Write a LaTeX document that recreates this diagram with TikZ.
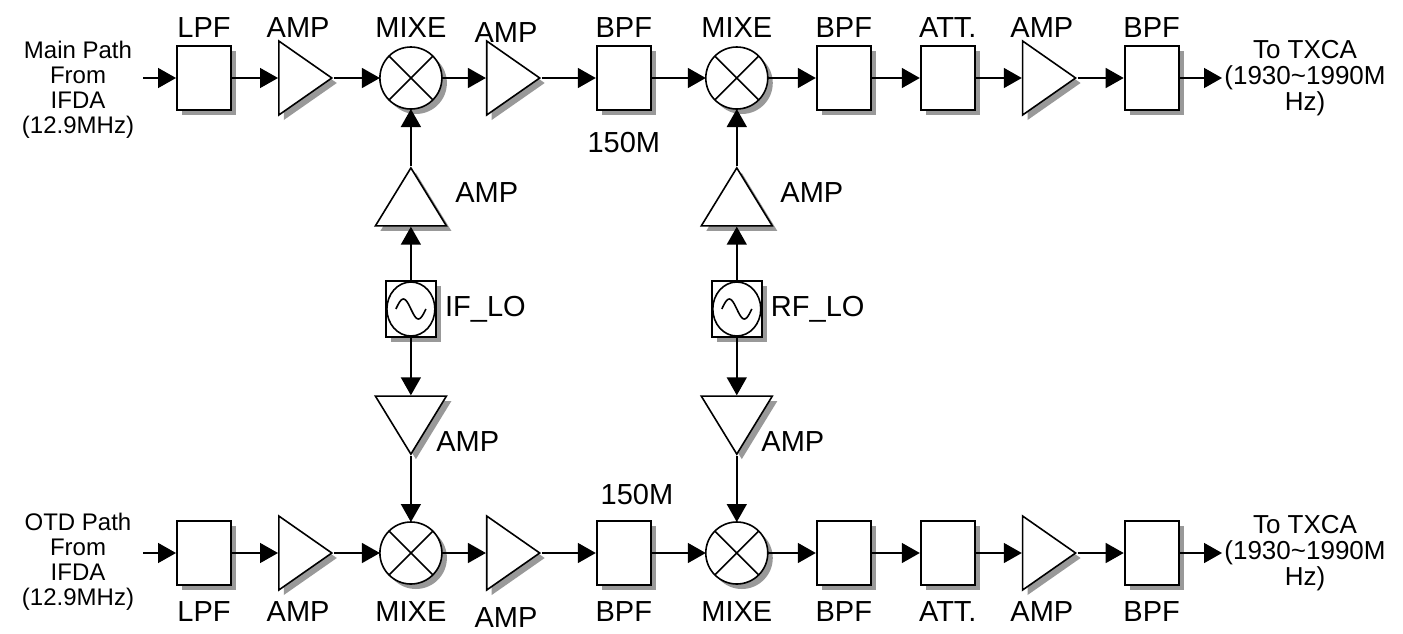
\documentclass[tikz,border=0pt]{standalone}
\usepackage{fontspec}
\setmainfont{Liberation Sans}
\usetikzlibrary{shapes.geometric,shadows,chains,arrows.meta,positioning}
\tikzset{boxshadow/.style={drop shadow={shadow xshift=2.5pt, shadow yshift=-2.5pt, fill=black!40, opacity=1}},
  blk/.style={draw, line width=1pt, fill=white, rectangle, minimum width=27pt, minimum height=32pt, inner sep=0pt, boxshadow},
  ampr/.style={draw, line width=0.8pt, fill=white, isosceles triangle, isosceles triangle stretches, inner sep=0pt, minimum width=37pt, minimum height=26.5pt, boxshadow},
  ampu/.style={ampr, shape border rotate=90, minimum width=35.5pt, minimum height=29pt},
  ampd/.style={ampr, shape border rotate=270, minimum width=35.5pt, minimum height=29pt},
  mix/.style={draw, line width=0.8pt, fill=white, circle, minimum size=31pt, inner sep=0pt, outer sep=0pt, boxshadow, path picture={\draw[line width=0.8pt, shift={(path picture bounding box.center)}] (45:16pt) -- (225:16pt) (135:16pt) -- (315:16pt);}},
  osc/.style={draw, line width=0.8pt, fill=white, rectangle, minimum width=25pt, minimum height=28pt, inner sep=0pt, boxshadow, path picture={\draw[line width=0.8pt, shift={(path picture bounding box.center)}] (0,0) ellipse [x radius=12pt, y radius=13.5pt]; \draw[line width=0.8pt, shift={(path picture bounding box.center)}] plot[domain=-1:1, samples=25, smooth] ({7.5pt*\x},{-5pt*sin(180*\x)});}},
  lbl/.style={font=\fontsize{14.5}{17}\selectfont, inner sep=0pt},
  txt/.style={font=\fontsize{12}{12.5}\selectfont, align=center, inner sep=1pt},
  dst/.style={font=\fontsize{13}{13}\selectfont, align=center, inner sep=1pt},
  arr/.style={-{Triangle[length=9pt,width=10pt]}, line width=0.75pt}}

\begin{document}
\begin{tikzpicture}[x=0.5pt, y=-0.5pt, node distance=23pt, start chain=main going right, start chain=otd going right]
    \useasboundingbox (0,0) rectangle (1403,633);
    % main path
    \node[blk, on chain=main] (mLPF) at (204,78) {};
    \node[ampr, on chain=main] (mAMP1) {};
    \node[mix, on chain=main] (mMIX1) {};
    \node[ampr, node distance=22pt, on chain=main] (mAMP2) {};
    \node[blk, node distance=27pt, on chain=main] (mBPF1) {};
    \node[mix, node distance=27pt, on chain=main] (mMIX2) {};
    \node[blk, node distance=24pt, on chain=main] (mBPF2) {};
    \node[blk, node distance=24pt, on chain=main] (mATT) {};
    \node[ampr, on chain=main] (mAMP3) {};
    \node[blk, on chain=main] (mBPF3) {};
    \node[txt] (mSrc) at (78,90) {Main Path\\From\\IFDA\\(12.9MHz)};
    \node[dst] (mDst) at (1305,78) {To TXCA\\(1930\textasciitilde1990M\\Hz)};
    \coordinate (mIn) at (143,0 |- mLPF);
    % OTD path
    \node[blk, on chain=otd] (oLPF) at (204,553) {};
    \node[ampr, on chain=otd] (oAMP1) {};
    \node[mix, on chain=otd] (oMIX1) {};
    \node[ampr, node distance=22pt, on chain=otd] (oAMP2) {};
    \node[blk, node distance=27pt, on chain=otd] (oBPF1) {};
    \node[mix, node distance=27pt, on chain=otd] (oMIX2) {};
    \node[blk, node distance=24pt, on chain=otd] (oBPF2) {};
    \node[blk, node distance=24pt, on chain=otd] (oATT) {};
    \node[ampr, on chain=otd] (oAMP3) {};
    \node[blk, on chain=otd] (oBPF3) {};
    \node[txt] (oSrc) at (78,562) {OTD Path\\From\\IFDA\\(12.9MHz)};
    \node[dst] (oDst) at (1305,553) {To TXCA\\(1930\textasciitilde1990M\\Hz)};
    \coordinate (oIn) at (143,0 |- oLPF);
    % local oscillators
    \node[ampu] (ifAMP1) at (mMIX1 |- 0,206) {};
    \node[osc] (ifLO) at (mMIX1 |- 0,309) {};
    \node[ampd] (ifAMP2) at (mMIX1 |- 0,416) {};
    \node[ampu] (rfAMP1) at (mMIX2 |- 0,206) {};
    \node[osc] (rfLO) at (mMIX2 |- 0,309) {};
    \node[ampd] (rfAMP2) at (mMIX2 |- 0,416) {};
    % labels
    \node[lbl] (mLPFl) at (mLPF |- 0,28) {LPF};
    \node[lbl] (mAMP1l) at (mAMP1 |- 0,28) {AMP};
    \node[lbl] (mMIX1l) at (mMIX1 |- 0,28) {MIXE};
    \node[lbl] (mAMP2l) at (mAMP2 |- 0,33) {AMP};
    \node[lbl] (mBPF1l) at (mBPF1 |- 0,28) {BPF};
    \node[lbl] (mMIX2l) at (mMIX2 |- 0,28) {MIXE};
    \node[lbl] (mBPF2l) at (mBPF2 |- 0,28) {BPF};
    \node[lbl] (mATTl) at (mATT |- 0,28) {ATT.};
    \node[lbl] (mAMP3l) at (mAMP3 |- 0,28) {AMP};
    \node[lbl] (mBPF3l) at (mBPF3 |- 0,28) {BPF};
    \node[lbl] (mFreq) at (mBPF1 |- 0,143) {150M};
    \node[lbl] (oLPFl) at (oLPF |- 0,612) {LPF};
    \node[lbl] (oAMP1l) at (oAMP1 |- 0,612) {AMP};
    \node[lbl] (oMIX1l) at (oMIX1 |- 0,612) {MIXE};
    \node[lbl] (oAMP2l) at (oAMP2 |- 0,618) {AMP};
    \node[lbl] (oBPF1l) at (oBPF1 |- 0,612) {BPF};
    \node[lbl] (oMIX2l) at (oMIX2 |- 0,612) {MIXE};
    \node[lbl] (oBPF2l) at (oBPF2 |- 0,612) {BPF};
    \node[lbl] (oATTl) at (oATT |- 0,612) {ATT.};
    \node[lbl] (oAMP3l) at (oAMP3 |- 0,612) {AMP};
    \node[lbl] (oBPF3l) at (oBPF3 |- 0,612) {BPF};
    \node[lbl] (oFreq) at (637,495) {150M};
    \node[lbl, anchor=west] (ifAMP1l) at (455,193) {AMP};
    \node[lbl, right=4pt of ifLO] (ifLOl) {IF\_LO};
    \node[lbl, anchor=west] (ifAMP2l) at (436,442) {AMP};
    \node[lbl, anchor=west] (rfAMP1l) at (780,193) {AMP};
    \node[lbl, right=4pt of rfLO] (rfLOl) {RF\_LO};
    \node[lbl, anchor=west] (rfAMP2l) at (761,442) {AMP};
    % connectors
    \draw[arr] (mIn) -- (mLPF);
    \draw[arr] (mLPF) -- (mAMP1);
    \draw[arr] (mAMP1) -- (mMIX1);
    \draw[arr] (mMIX1) -- (mAMP2);
    \draw[arr] (mAMP2) -- (mBPF1);
    \draw[arr] (mBPF1) -- (mMIX2);
    \draw[arr] (mMIX2) -- (mBPF2);
    \draw[arr] (mBPF2) -- (mATT);
    \draw[arr] (mATT) -- (mAMP3);
    \draw[arr] (mAMP3) -- (mBPF3);
    \draw[arr] (mBPF3) -- (mDst);
    \draw[arr] (oIn) -- (oLPF);
    \draw[arr] (oLPF) -- (oAMP1);
    \draw[arr] (oAMP1) -- (oMIX1);
    \draw[arr] (oMIX1) -- (oAMP2);
    \draw[arr] (oAMP2) -- (oBPF1);
    \draw[arr] (oBPF1) -- (oMIX2);
    \draw[arr] (oMIX2) -- (oBPF2);
    \draw[arr] (oBPF2) -- (oATT);
    \draw[arr] (oATT) -- (oAMP3);
    \draw[arr] (oAMP3) -- (oBPF3);
    \draw[arr] (oBPF3) -- (oDst);
    \draw[arr] (ifAMP1.apex) -- (mMIX1);
    \draw[arr] (ifLO) -- (ifAMP1.lower side);
    \draw[arr] (ifLO) -- (ifAMP2.lower side);
    \draw[arr] (ifAMP2.apex) -- (oMIX1);
    \draw[arr] (rfAMP1.apex) -- (mMIX2);
    \draw[arr] (rfLO) -- (rfAMP1.lower side);
    \draw[arr] (rfLO) -- (rfAMP2.lower side);
    \draw[arr] (rfAMP2.apex) -- (oMIX2);
\end{tikzpicture}
\end{document}
